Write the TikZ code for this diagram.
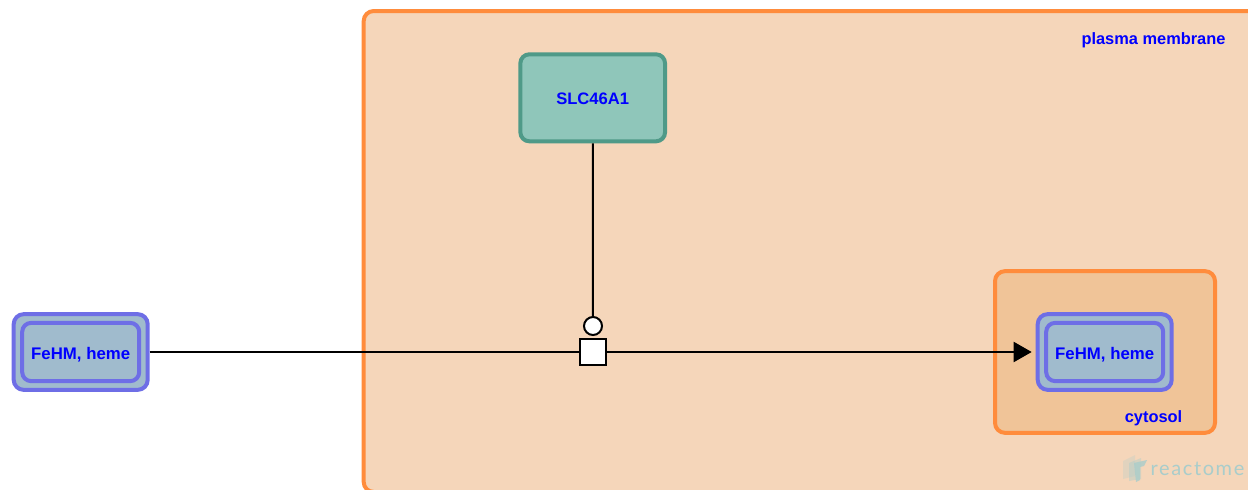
\documentclass[tikz,border=0pt]{standalone}
\usepackage{fontspec}
\setmainfont{Liberation Sans}
\newfontfamily\logofont[LetterSpace=8]{Lato}
\usetikzlibrary{arrows.meta,positioning}

\definecolor{compline}{HTML}{FF8C3C}
\definecolor{membfill}{HTML}{F5D6BA}
\definecolor{cytofill}{HTML}{F0C498}
\definecolor{setline}{HTML}{6E6EE6}
\definecolor{setfill}{HTML}{A0BBCD}
\definecolor{protline}{HTML}{4F9A88}
\definecolor{protfill}{HTML}{8FC6BA}
\definecolor{logoteal}{HTML}{A9CDCB}

\begin{document}
\begin{tikzpicture}[x=1pt,y=-1pt,
      compartment/.style={rectangle, draw=compline, line width=4pt, rounded corners=10pt, outer sep=0pt},
      outerset/.style={rectangle, draw=setline, fill=setfill, line width=4pt, rounded corners=10pt, minimum width=134pt, minimum height=75.7pt},
      innerset/.style={rectangle, draw=setline, fill=setfill, line width=4pt, rounded corners=9pt, minimum width=117pt, minimum height=58.3pt, inner sep=0pt, text=blue, text height=14pt, text depth=0pt, font=\fontsize{16.8}{18}\selectfont\bfseries},
      protein/.style={rectangle, draw=protline, fill=protfill, line width=4pt, rounded corners=9pt, minimum width=144.7pt, minimum height=87pt, text=blue, text height=14pt, text depth=0pt, font=\fontsize{16.6}{18}\selectfont\bfseries},
      label/.style={text=blue, inner sep=0pt, font=\fontsize{16.4}{18}\selectfont\bfseries},
      process/.style={rectangle, draw=black, fill=white, line width=2pt, minimum size=26pt, inner sep=0pt},
      catalyst/.style={circle, draw=black, fill=white, line width=2pt, minimum size=18pt, inner sep=0pt},
      pfeil/.style={draw=black, line width=2pt},
      pfeilspitze/.style={pfeil, -{Triangle[length=18pt,width=20pt]}, shorten >=4pt}]

\useasboundingbox (0,0) rectangle (1248,490);

% compartments
\node[compartment,fill=membfill,minimum width=920pt,minimum height=481pt] (membrane) at (823.7,251.5) {};
\node[compartment,fill=cytofill,minimum width=220pt,minimum height=161.7pt] (cytosol) at (1105,352) {};
\node[label] (membranelabel) at (1153.5,40) {plasma membrane};
\node[label] (cytosollabel) at (1153.5,418) {cytosol};

% entities
\node[outerset] (in0) at (80.7,352) {};
\node[innerset] (in1) at (80.7,352) {FeHM, heme};
\node[outerset] (out0) at (1104.7,352) {};
\node[innerset] (out1) at (1104.7,352) {FeHM, heme};
\node[protein] (slc) at (592.7,97.8) {SLC46A1};

% reaction
\node[process] (reaction) at (593,352) {};
\node[catalyst] (cat) at (593,326) {};
\draw[pfeil] (in0) edge (reaction);
\draw[pfeilspitze] (reaction) edge (out0);
\draw[pfeil] (slc) edge (cat);

% logo
\fill[logoteal,opacity=.25] (1123,461) -- (1135,455) -- (1135,476) -- (1123,479) -- cycle;
\fill[logoteal,opacity=.4] (1129,463) -- (1141,458) -- (1141,479) -- (1129,481) -- cycle;
\fill[logoteal,opacity=.8] (1134,463) -- (1147,460) -- (1144,466) -- (1140,467) -- (1140,480) -- (1136,482) -- cycle;
\node[text=logoteal, inner sep=0pt, anchor=west, font=\logofont\fontsize{20}{22}\selectfont] (logo) at (1150.5,469) {reactome};

\end{tikzpicture}
\end{document}
